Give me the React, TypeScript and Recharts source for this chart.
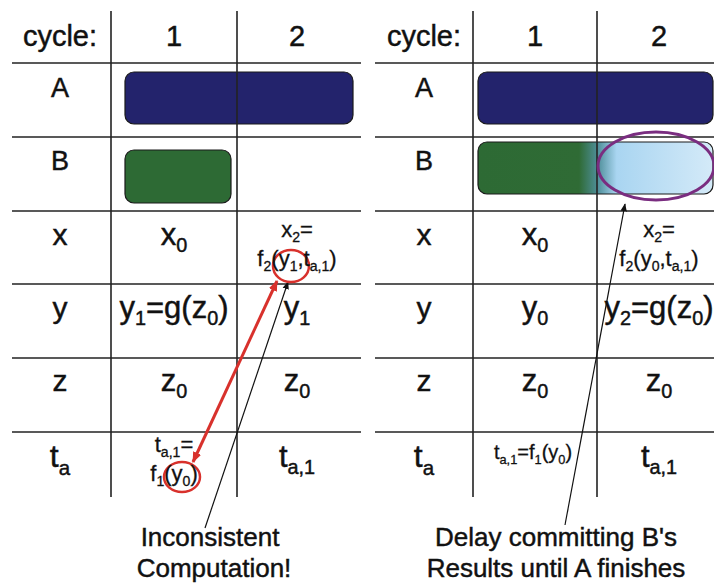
import React from 'react'
import { ComposedChart, XAxis, YAxis, Scatter, ReferenceLine, ReferenceArea, ReferenceDot } from 'recharts'

const W = 714
const H = 586
const FONT = '"Liberation Sans", Arial, Helvetica, sans-serif'

// table grid (pixel units of the picture)
const rowLines = [63, 137, 211, 284, 358, 432]
const colTop = 11
const colBottom = 497
const panels = [
  { start: 12, end: 361, cols: [111, 237], labelX: 60, cellX: [174, 297] },
  { start: 375, end: 714, cols: [473, 597], labelX: 424, cellX: [535, 659] },
]

// texts
const cycles = ['1', '2']
const rowLabels = ['A', 'B', 'x', 'y', 'z', 't_{a}']
const rowBase = [97, 170, 245, 318, 391, 467]
const labelSize = [27, 27, 30, 30, 30, 32]

// cells of rows x, y, z, t_a ; '|' = two small lines, '~' = one small line
const leftCells = [
  ['x_{0}', 'x_{2}=|f_{2}(y_{1},t_{a,1})'],
  ['y_{1}=g(z_{0})', 'y_{1}'],
  ['z_{0}', 'z_{0}'],
  ['t_{a,1}=|f_{1}(y_{0})', 't_{a,1}'],
]
const rightCells = [
  ['x_{0}', 'x_{2}=|f_{2}(y_{0},t_{a,1})'],
  ['y_{0}', 'y_{2}=g(z_{0})'],
  ['z_{0}', 'z_{0}'],
  ['~t_{a,1}=f_{1}(y_{0})', 't_{a,1}'],
]
const twoLineBase: Record<number, number[]> = { 2: [237, 266], 5: [452, 481] }

const leftCaption = ['Inconsistent', 'Computation!']
const rightCaption = ["Delay committing B's", 'Results until A finishes']

// unit bars
const bars = [
  { x1: 125, x2: 353, y1: 72, y2: 124, fill: '#23236c' },
  { x1: 125, x2: 231, y1: 150, y2: 203, fill: '#2d6a34' },
  { x1: 478, x2: 713, y1: 72, y2: 124, fill: '#23236c' },
  { x1: 478, x2: 713, y1: 142, y2: 194, fill: 'url(#bGrad)' },
]

type TextItem = { x: number; y: number; text: string; size: number }

const texts: TextItem[] = []
panels.forEach((p, pi) => {
  texts.push({ x: p.labelX, y: 46, text: 'cycle:', size: 29 })
  cycles.forEach((c, ci) => texts.push({ x: p.cellX[ci], y: 46, text: c, size: 29 }))
  rowLabels.forEach((l, ri) => texts.push({ x: p.labelX, y: rowBase[ri], text: l, size: labelSize[ri] }))
  const cells = pi === 0 ? leftCells : rightCells
  cells.forEach((row, i) => {
    const ri = i + 2
    row.forEach((cell, ci) => {
      if (cell.includes('|')) {
        cell.split('|').forEach((line, li) =>
          texts.push({ x: p.cellX[ci], y: twoLineBase[ri][li], text: line, size: 22 }))
      } else if (cell.startsWith('~')) {
        texts.push({ x: p.cellX[ci] - 2, y: rowBase[ri] - 8, text: cell.slice(1), size: 20 })
      } else {
        texts.push({ x: p.cellX[ci], y: rowBase[ri], text: cell, size: 31 })
      }
    })
  })
})
leftCaption.forEach((t, i) => texts.push({ x: 210, y: 546, text: t, size: 26 }))
rightCaption.forEach((t, i) => texts.push({ x: 556, y: 546 + i * 31, text: t, size: 26 }))
texts.splice(texts.length - 3, 1, { x: 214, y: 577, text: leftCaption[1], size: 26 })

function RichText(props: any) {
  const { cx, cy, payload } = props
  const { text, size } = payload as TextItem
  const parts = text.split(/(_\{[^}]*\})/).filter(Boolean)
  const sub = size * 0.64
  const shift = size * 0.24
  let down = false
  return (
    <text x={cx} y={cy} fontSize={size} fontFamily={FONT} fill="#111" stroke="#111"
      strokeWidth={size > 24 ? 0.45 : 0.3} textAnchor="middle">
      {parts.map((part, i) => {
        if (part.startsWith('_{')) {
          const el = (
            <tspan key={i} fontSize={sub} dy={down ? 0 : shift}>{part.slice(2, -1)}</tspan>
          )
          down = true
          return el
        }
        const el = <tspan key={i} dy={down ? -shift : 0}>{part}</tspan>
        down = false
        return el
      })}
    </text>
  )
}

const barShape = (fill: string) => (p: any) => (
  <rect x={p.x} y={p.y} width={p.width} height={p.height} rx={9} ry={9}
    fill={fill} stroke="#1a1a1a" strokeWidth={1.2} />
)

const arrowShape = (color: string, width: number, both: boolean) => (p: any) => (
  <line x1={p.x1} y1={p.y1} x2={p.x2} y2={p.y2} stroke={color} strokeWidth={width}
    markerEnd={`url(#${color === '#111' ? 'headK' : 'headR'})`}
    markerStart={both ? 'url(#headR)' : undefined} />
)

export default function App() {
  return (
    <div style={{ position: 'absolute', left: 0, top: 0, background: '#fff' }}>
      <ComposedChart width={W} height={H} margin={{ top: 0, right: 0, bottom: 0, left: 0 }}>
        <defs>
          <linearGradient id="bGrad" x1="0" y1="0" x2="1" y2="0">
            <stop offset="0" stopColor="#2d6a34" />
            <stop offset="0.43" stopColor="#2f6b35" />
            <stop offset="0.51" stopColor="#4f8f9a" />
            <stop offset="0.59" stopColor="#a9d5f1" />
            <stop offset="1" stopColor="#d4eaf8" />
          </linearGradient>
          <marker id="headK" viewBox="0 0 10 10" refX="9" refY="5" markerWidth="8" markerHeight="8"
            markerUnits="userSpaceOnUse" orient="auto-start-reverse">
            <path d="M0,1 L10,5 L0,9 z" fill="#111" />
          </marker>
          <marker id="headR" viewBox="0 0 10 10" refX="9" refY="5" markerWidth="11" markerHeight="11"
            markerUnits="userSpaceOnUse" orient="auto-start-reverse">
            <path d="M0,1 L10,5 L0,9 z" fill="#d8312c" />
          </marker>
        </defs>
        <XAxis type="number" dataKey="x" domain={[0, W]} hide allowDataOverflow />
        <YAxis type="number" dataKey="y" domain={[0, H]} reversed hide allowDataOverflow />

        {bars.map((b, i) => (
          <ReferenceArea key={`bar-${i}`} x1={b.x1} x2={b.x2} y1={b.y1} y2={b.y2} shape={barShape(b.fill)} />
        ))}

        {panels.map((p, pi) =>
          rowLines.map((y) => (
            <ReferenceLine key={`h-${pi}-${y}`} segment={[{ x: p.start, y }, { x: p.end, y }]}
              stroke="#222" strokeWidth={1.6} />
          ))
        )}
        {panels.map((p, pi) =>
          p.cols.map((x) => (
            <ReferenceLine key={`v-${pi}-${x}`} segment={[{ x, y: colTop }, { x, y: colBottom }]}
              stroke="#222" strokeWidth={1.6} />
          ))
        )}

        <ReferenceDot x={656} y={166} r={1} shape={(p: any) => (
          <ellipse cx={p.cx} cy={p.cy} rx={58} ry={34} fill="none" stroke="#7a2d80" strokeWidth={3} />
        )} />
        <ReferenceDot x={291} y={266} r={1} shape={(p: any) => (
          <ellipse cx={p.cx} cy={p.cy} rx={18} ry={16} fill="none" stroke="#d8312c" strokeWidth={2.5} />
        )} />
        <ReferenceDot x={182} y={477} r={1} shape={(p: any) => (
          <ellipse cx={p.cx} cy={p.cy} rx={18} ry={15} fill="none" stroke="#d8312c" strokeWidth={2.5} />
        )} />

        <ReferenceLine segment={[{ x: 193, y: 462 }, { x: 277, y: 281 }]} shape={arrowShape('#d8312c', 3, true)} />
        <ReferenceLine segment={[{ x: 205, y: 528 }, { x: 288, y: 282 }]} shape={arrowShape('#111', 1.2, false)} />
        <ReferenceLine segment={[{ x: 565, y: 525 }, { x: 625, y: 204 }]} shape={arrowShape('#111', 1.2, false)} />

        <Scatter data={texts} shape={RichText} isAnimationActive={false} legendType="none" />
      </ComposedChart>
    </div>
  )
}
